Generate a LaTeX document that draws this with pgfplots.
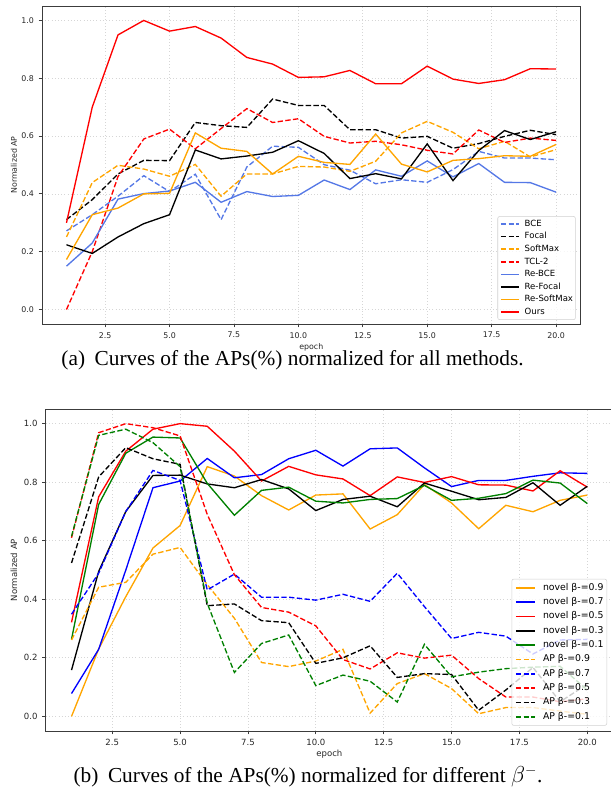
\documentclass[border=0pt]{standalone}
\usepackage{pgfplots}
\usepackage{pgfplotstable}
\pgfplotsset{compat=1.18}
\usepackage{fontspec}
\setmainfont{Liberation Serif}
\newfontfamily\dejavu{DejaVu Sans}
\newcommand\fa{\dejavu\fontsize{5.9}{7}\selectfont}
\newcommand\fb{\dejavu\fontsize{6.4}{7.6}\selectfont}
\newcommand\fc{\dejavu\fontsize{7.0}{8.4}\selectfont}

\definecolor{cbl}{RGB}{85,120,230}
\definecolor{org}{RGB}{255,165,0}
\definecolor{mgr}{RGB}{0,128,0}
\definecolor{pblue}{RGB}{0,0,255}
\definecolor{pred}{RGB}{255,0,0}
\definecolor{frame}{RGB}{60,60,60}

\pgfplotstableread{
e bce focal soft tcl rebce refocal resoft ours
1  0.272 0.311 0.251 0.000 0.150 0.224 0.173 0.300
2  0.328 0.380 0.439 0.200 0.230 0.194 0.328 0.700
3  0.392 0.469 0.499 0.460 0.382 0.251 0.351 0.950
4  0.463 0.516 0.486 0.590 0.401 0.297 0.400 1.000
5  0.408 0.515 0.461 0.624 0.410 0.328 0.402 0.963
6  0.468 0.647 0.502 0.556 0.440 0.552 0.611 0.979
7  0.311 0.636 0.392 0.626 0.371 0.521 0.558 0.939
8  0.493 0.630 0.469 0.695 0.408 0.531 0.547 0.872
9  0.565 0.728 0.469 0.647 0.391 0.544 0.469 0.849
10 0.561 0.706 0.495 0.660 0.395 0.584 0.530 0.803
11 0.501 0.706 0.493 0.599 0.448 0.540 0.509 0.805
12 0.482 0.622 0.478 0.576 0.415 0.453 0.502 0.827
13 0.435 0.622 0.513 0.582 0.483 0.470 0.607 0.781
14 0.449 0.593 0.611 0.570 0.461 0.452 0.503 0.781
15 0.440 0.599 0.651 0.551 0.514 0.573 0.476 0.842
16 0.484 0.558 0.613 0.538 0.459 0.446 0.516 0.797
17 0.547 0.574 0.556 0.621 0.505 0.550 0.522 0.782
18 0.524 0.599 0.582 0.578 0.440 0.619 0.532 0.795
19 0.524 0.620 0.528 0.593 0.439 0.588 0.530 0.833
20 0.518 0.605 0.553 0.585 0.406 0.615 0.571 0.832
}\tabA

\pgfplotstableread{
e nA nB nC nD nE aA aB aC aD aE
1  0.000 0.078 0.321 0.158 0.263 0.261 0.349 0.610 0.524 0.615
2  0.230 0.229 0.750 0.495 0.724 0.441 0.489 0.969 0.818 0.960
3  0.409 0.500 0.906 0.700 0.899 0.458 0.700 1.000 0.918 0.981
4  0.575 0.781 0.981 0.823 0.954 0.554 0.840 0.986 0.880 0.935
5  0.652 0.804 1.000 0.824 0.951 0.577 0.806 0.958 0.861 0.853
6  0.853 0.881 0.991 0.794 0.796 0.450 0.432 0.690 0.378 0.386
7  0.821 0.815 0.906 0.781 0.687 0.335 0.486 0.484 0.384 0.150
8  0.754 0.826 0.804 0.809 0.772 0.184 0.407 0.372 0.327 0.249
9  0.705 0.880 0.854 0.777 0.783 0.170 0.407 0.356 0.320 0.278
10 0.756 0.909 0.825 0.703 0.735 0.189 0.397 0.309 0.181 0.105
11 0.760 0.855 0.811 0.741 0.729 0.229 0.417 0.194 0.200 0.141
12 0.640 0.914 0.754 0.752 0.741 0.011 0.393 0.162 0.241 0.120
13 0.689 0.917 0.818 0.716 0.744 0.112 0.489 0.217 0.133 0.049
14 0.792 0.849 0.799 0.797 0.789 0.146 0.375 0.199 0.146 0.246
15 0.729 0.785 0.819 0.769 0.738 0.095 0.266 0.209 0.143 0.135
16 0.641 0.806 0.791 0.740 0.745 0.009 0.287 0.129 0.021 0.151
17 0.721 0.806 0.790 0.748 0.761 0.030 0.274 0.066 0.090 0.163
18 0.699 0.820 0.770 0.798 0.807 0.030 0.213 0.066 0.167 0.168
19 0.738 0.832 0.839 0.721 0.797 0.018 0.261 0.050 0.050 0.171
20 0.756 0.830 0.783 0.786 0.727 0.007 0.263 0.060 0.110 0.090
}\tabB

\pgfplotsset{
  base/.style={
    scale only axis,
    xmin=0.05, xmax=20.95, ymin=-0.05, ymax=1.05,
    xtick={2.5,5,7.5,10,12.5,15,17.5,20},
    ytick={0,0.2,0.4,0.6,0.8,1.0},
    /pgf/number format/fixed,
    /pgf/number format/fixed zerofill,
    /pgf/number format/precision=1,
    /pgf/number format/assume math mode=true,
    axis line style={frame, line width=0.6pt},
    tick style={frame, line width=0.6pt},
    tick align=outside,
    major tick length=2.6pt,
    tick pos=left,
    grid=major,
    major grid style={dotted, black!16, line width=0.5pt},
    every axis plot/.append style={line width=1pt, no marks},
    legend cell align=left,
  },
  dsh/.style={dash pattern=on 4pt off 1.8pt},
}

\begin{document}
\begin{tikzpicture}
\path[use as bounding box] (0pt,0pt) rectangle (457.5pt,590.25pt);

% ---------- top axis ----------
\begin{axis}[base,
  at={(31.5pt,347.25pt)}, anchor=south west,
  width=403.9pt, height=238.5pt,
  tick label style={font=\fa, text=black!85},
  xlabel={epoch}, ylabel={Normalized AP},
  every axis x label/.style={at={(axis description cs:0.5,-0.0745)}, anchor=center, font=\fa, text=black!85},
  every axis y label/.style={at={(axis description cs:-0.052,0.5)}, rotate=90, anchor=center, font=\fa, text=black!85},
  legend image code/.code={\draw[line width=1.15pt,#1] (0pt,0pt) -- (13.5pt,0pt);},
  legend style={font=\fb, at={(rel axis cs:0.991,0.0126)}, anchor=south east,
    draw=black!18, rounded corners=1.5pt, fill=white, fill opacity=0.8, text opacity=1, draw opacity=1,
    inner xsep=1.8pt, inner ysep=2.2pt, row sep=2.55pt,
    /tikz/every odd column/.append style={column sep=3.75pt},
    nodes={inner xsep=0pt, inner ysep=0.3pt, text height=4.9pt, text depth=1.4pt}},
]
\addplot[cbl, dsh] table[x=e,y=bce]{\tabA}; \addlegendentry{BCE}
\addplot[black, dsh] table[x=e,y=focal]{\tabA}; \addlegendentry{Focal}
\addplot[org, dsh] table[x=e,y=soft]{\tabA}; \addlegendentry{SoftMax}
\addplot[pred, dsh] table[x=e,y=tcl]{\tabA}; \addlegendentry{TCL-2}
\addplot[cbl] table[x=e,y=rebce]{\tabA}; \addlegendentry{Re-BCE}
\addplot[black] table[x=e,y=refocal]{\tabA}; \addlegendentry{Re-Focal}
\addplot[org] table[x=e,y=resoft]{\tabA}; \addlegendentry{Re-SoftMax}
\addplot[pred] table[x=e,y=ours]{\tabA}; \addlegendentry{Ours}
\end{axis}

% ---------- bottom axis ----------
\begin{axis}[base,
  at={(34.3pt,42pt)}, anchor=south west,
  width=425.5pt, height=241.5pt,
  tick label style={font=\fb, text=black!85},
  xlabel={epoch}, ylabel={Normalized AP},
  every axis x label/.style={at={(axis description cs:0.5,-0.0714)}, anchor=center, font=\fb, text=black!85},
  every axis y label/.style={at={(axis description cs:-0.056,0.5)}, rotate=90, anchor=center, font=\fb, text=black!85},
  legend image code/.code={\draw[line width=1.15pt,#1] (0pt,0pt) -- (14.25pt,0pt);},
  legend style={font=\fc, at={(rel axis cs:0.9894,0.0165)}, anchor=south east,
    draw=black!18, rounded corners=1.5pt, fill=white, fill opacity=0.8, text opacity=1, draw opacity=1,
    inner xsep=2.5pt, inner ysep=2.8pt, row sep=3.35pt,
    /tikz/every odd column/.append style={column sep=5.5pt},
    nodes={inner xsep=0pt, inner ysep=0.3pt, text height=5.3pt, text depth=1.5pt}},
]
\addplot[org] table[x=e,y=nA]{\tabB}; \addlegendentry{novel β-=0.9}
\addplot[pblue] table[x=e,y=nB]{\tabB}; \addlegendentry{novel β-=0.7}
\addplot[pred] table[x=e,y=nC]{\tabB}; \addlegendentry{novel β-=0.5}
\addplot[black] table[x=e,y=nD]{\tabB}; \addlegendentry{novel β-=0.3}
\addplot[mgr] table[x=e,y=nE]{\tabB}; \addlegendentry{novel β-=0.1}
\addplot[org, dsh] table[x=e,y=aA]{\tabB}; \addlegendentry{AP β-=0.9}
\addplot[pblue, dsh] table[x=e,y=aB]{\tabB}; \addlegendentry{AP β-=0.7}
\addplot[pred, dsh] table[x=e,y=aC]{\tabB}; \addlegendentry{AP β-=0.5}
\addplot[black, dsh] table[x=e,y=aD]{\tabB}; \addlegendentry{AP β-=0.3}
\addplot[mgr, dsh] table[x=e,y=aE]{\tabB}; \addlegendentry{AP β-=0.1}
\end{axis}

\node[anchor=base, font=\fontsize{16}{19}\selectfont] at (219.4pt,315.8pt) {(a)\hspace{0.45em}Curves of the APs(\%) normalized for all methods.};
\node[anchor=base, font=\fontsize{16}{19}\selectfont] at (231pt,3.2pt) {(b)\hspace{0.45em}Curves of the APs(\%) normalized for different $\beta^-$.};
\end{tikzpicture}
\end{document}
